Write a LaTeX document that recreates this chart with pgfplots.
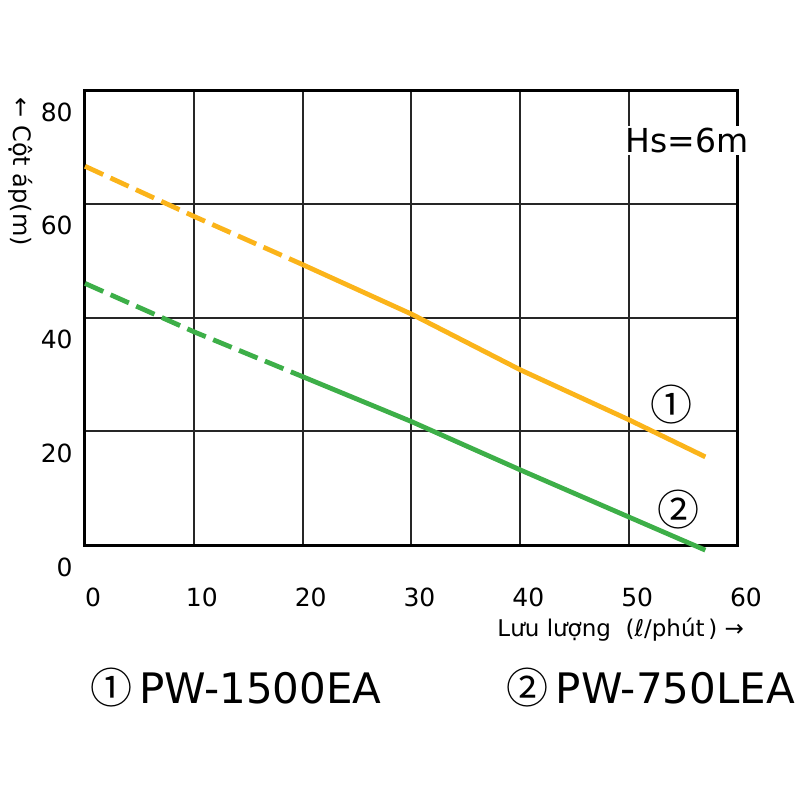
\documentclass[border=0pt]{standalone}
\usepackage{fontspec}
\setmainfont{DejaVu Sans}
\newfontfamily\cjk{Noto Sans CJK JP}
\usepackage{pgfplots}
\pgfplotsset{compat=1.18}
\definecolor{pumporange}{HTML}{FBB41A}
\definecolor{pumpgreen}{HTML}{3DAF48}

\begin{document}
\begin{tikzpicture}
% fixed page size: 400pt x 400pt, plot box placed as in the reference
\path[use as bounding box] (-42.5pt,-127.5pt) rectangle (357.5pt,272.5pt);
\begin{axis}[
    at={(0,0)}, anchor=south west,
    scale only axis,
    width=326.5pt, height=227.5pt,
    xmin=0, xmax=60, ymin=0, ymax=80,
    xtick={0,10,...,60}, ytick={0,20,...,80},
    grid=major,
    major grid style={black!85, line width=1pt},
    axis line style={line width=1.5pt},
    major tick length=0pt,
    ticklabel style={font=\fontsize{12.5}{14}\selectfont},
    /pgf/number format/assume math mode=true,
    xticklabel style={anchor=center, yshift=-26pt, xshift=4pt},
    yticklabel style={anchor=east, inner sep=0pt, xshift=-6pt, yshift=-11pt},
    clip=false,
]
    % PW-1500EA
    \addplot[pumporange, line width=2.4pt, dash pattern=on 10pt off 4pt]
        coordinates {(0,66.6) (10,57.8) (20,49.3)};
    \addplot[pumporange, line width=2.4pt]
        coordinates {(20,49.3) (30,40.6) (40,30.8) (50,22.0) (57,15.5)};
    % PW-750LEA
    \addplot[pumpgreen, line width=2.4pt, dash pattern=on 10pt off 4pt]
        coordinates {(0,46.0) (10,37.5) (20,29.6)};
    \addplot[pumpgreen, line width=2.4pt]
        coordinates {(20,29.6) (30,21.7) (40,13.2) (50,4.9) (57,-0.9)};

    \node[fill=white, inner sep=1pt, font=\fontsize{16.5}{18}\selectfont]
        at (axis description cs:0.922,0.89) {Hs=6m};
    \node[font=\cjk\fontsize{21}{22}\selectfont] at (axis cs:53.9,24.7) {①};
    \node[font=\cjk\fontsize{21}{22}\selectfont] at (axis cs:54.5,6.2) {②};

    \node[anchor=east, font=\fontsize{11.5}{13}\selectfont]
        at (axis description cs:1.02,-0.187) {Lưu lượng\ \ (ℓ/phút\,)\ →};
    \node[rotate=-90, font=\fontsize{12}{14}\selectfont]
        at (axis description cs:-0.099,0.82) {← Cột áp(m)};

    \node[anchor=west, font=\fontsize{21}{24}\selectfont]
        at (axis description cs:-0.003,-0.314) {{\cjk ①}\,PW-1500EA};
    \node[anchor=west, font=\fontsize{21}{24}\selectfont]
        at (axis description cs:0.635,-0.314) {{\cjk ②}\,PW-750LEA};
\end{axis}
\end{tikzpicture}
\end{document}
